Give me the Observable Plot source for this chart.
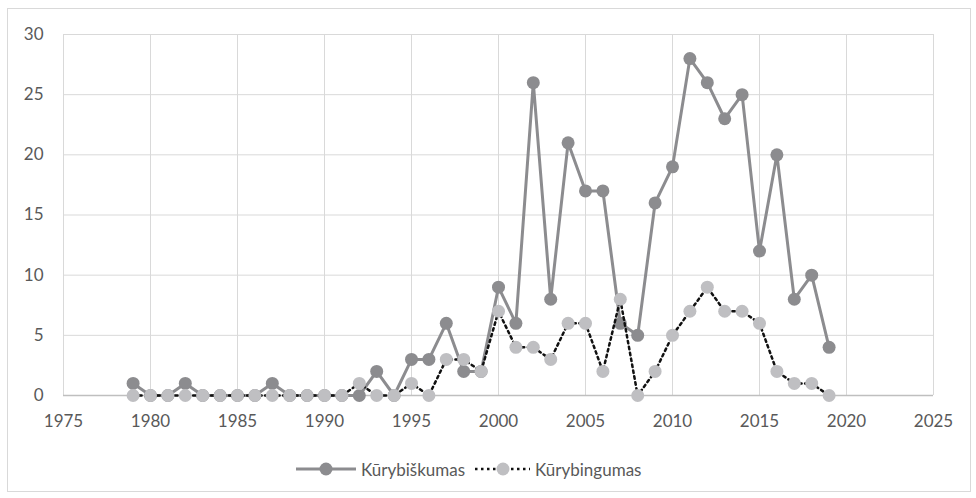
<!DOCTYPE html>
<html>
<head>
<meta charset="utf-8">
<script src="https://cdn.jsdelivr.net/npm/d3@7"></script>
<script src="https://cdn.jsdelivr.net/npm/@observablehq/plot@0.6"></script>
<style>
  body { margin: 0; background: #fff; }
  #wrap { position: relative; width: 976px; height: 498px; overflow: hidden; font-family: Lato, "Open Sans", sans-serif; }
  #frame { position: absolute; left: 7px; top: 8px; width: 962px; height: 482px; border: 1px solid #d9d9d9; }
  #chart { position: absolute; left: 0; top: 0; }
  #legend { position: absolute; left: 0; top: 455px; width: 976px; height: 28px; }
  #legend .item { position: absolute; top: 0; display: flex; align-items: center; height: 28px; color: #595959; font-size: 17px; }
</style>
</head>
<body>
<div id="wrap">
  <div id="frame"></div>
  <div id="chart"></div>
  <div id="legend"></div>
</div>
<script>
const years = d3.range(1979, 2020);
const kurybiskumas = [1,0,0,1,0,0,0,0,1,0,0,0,0,0,2,0,3,3,6,2,2,9,6,26,8,21,17,17,6,5,16,19,28,26,23,25,12,20,8,10,4];
const kurybingumas = [0,0,0,0,0,0,0,0,0,0,0,0,0,1,0,0,1,0,3,3,2,7,4,4,3,6,6,2,8,0,2,5,7,9,7,7,6,2,1,1,0];
const xTicks = [1975,1980,1985,1990,1995,2000,2005,2010,2015,2020,2025];
const yTicks = [0,5,10,15,20,25,30];
const seriesNames = ["Kūrybiškumas", "Kūrybingumas"];

const s1 = years.map((y, i) => ({year: y, value: kurybiskumas[i]}));
const s2 = years.map((y, i) => ({year: y, value: kurybingumas[i]}));

const dark = "#8c8c8f";
const light = "#bfbfc2";

const plot = Plot.plot({
  width: 976,
  height: 440,
  marginLeft: 63,
  marginRight: 43,
  marginTop: 34,
  marginBottom: 45,
  style: {fontFamily: "Lato, 'Open Sans', sans-serif", fontSize: "17px", color: "#595959", background: "transparent"},
  x: {domain: [1975, 2025], ticks: xTicks, tickFormat: d => String(d), label: null},
  y: {domain: [0, 30], ticks: yTicks, label: null},
  marks: [
    Plot.gridX(xTicks, {stroke: "#d9d9d9", strokeOpacity: 1, strokeWidth: 1}),
    Plot.gridY(yTicks, {stroke: "#d9d9d9", strokeOpacity: 1, strokeWidth: 1}),
    Plot.ruleY([0], {stroke: "#bfbfbf", strokeWidth: 1.5}),
    Plot.axisX(xTicks, {tickSize: 0, tickPadding: 19, tickFormat: d => String(d), fill: "#595959", fontSize: 17, label: null}),
    Plot.axisY(yTicks, {tickSize: 0, tickPadding: 20, fill: "#595959", fontSize: 17, label: null}),
    Plot.line(s1, {x: "year", y: "value", stroke: dark, strokeWidth: 3}),
    Plot.dot(s1, {x: "year", y: "value", r: 6.5, fill: dark, stroke: "none"}),
    Plot.line(s2, {x: "year", y: "value", stroke: "#111", strokeWidth: 2.5, strokeDasharray: "2.5 3.5"}),
    Plot.dot(s2, {x: "year", y: "value", r: 6.5, fill: light, stroke: "none"})
  ]
});
document.getElementById("chart").appendChild(plot);

const legend = document.getElementById("legend");
const items = [
  {name: seriesNames[0], svg: `<svg width="62" height="16"><line x1="1" y1="8" x2="61" y2="8" stroke="${dark}" stroke-width="3"/><circle cx="31" cy="8" r="6.5" fill="${dark}"/></svg>`},
  {name: seriesNames[1], svg: `<svg width="57" height="16"><line x1="1" y1="8" x2="56" y2="8" stroke="#111" stroke-width="2.5" stroke-dasharray="2.5 3.5"/><circle cx="29" cy="8" r="6.5" fill="${light}"/></svg>`}
];
items.forEach(it => {
  const d = document.createElement("div");
  d.className = "item";
  d.style.left = "295px";
  d.innerHTML = it.svg + `<span style="margin-left:4px">${it.name}</span>`;
  legend.appendChild(d);
});
const first = legend.children[0];
legend.children[1].style.left = (first.offsetLeft + first.offsetWidth + 9) + "px";
</script>
</body>
</html>
